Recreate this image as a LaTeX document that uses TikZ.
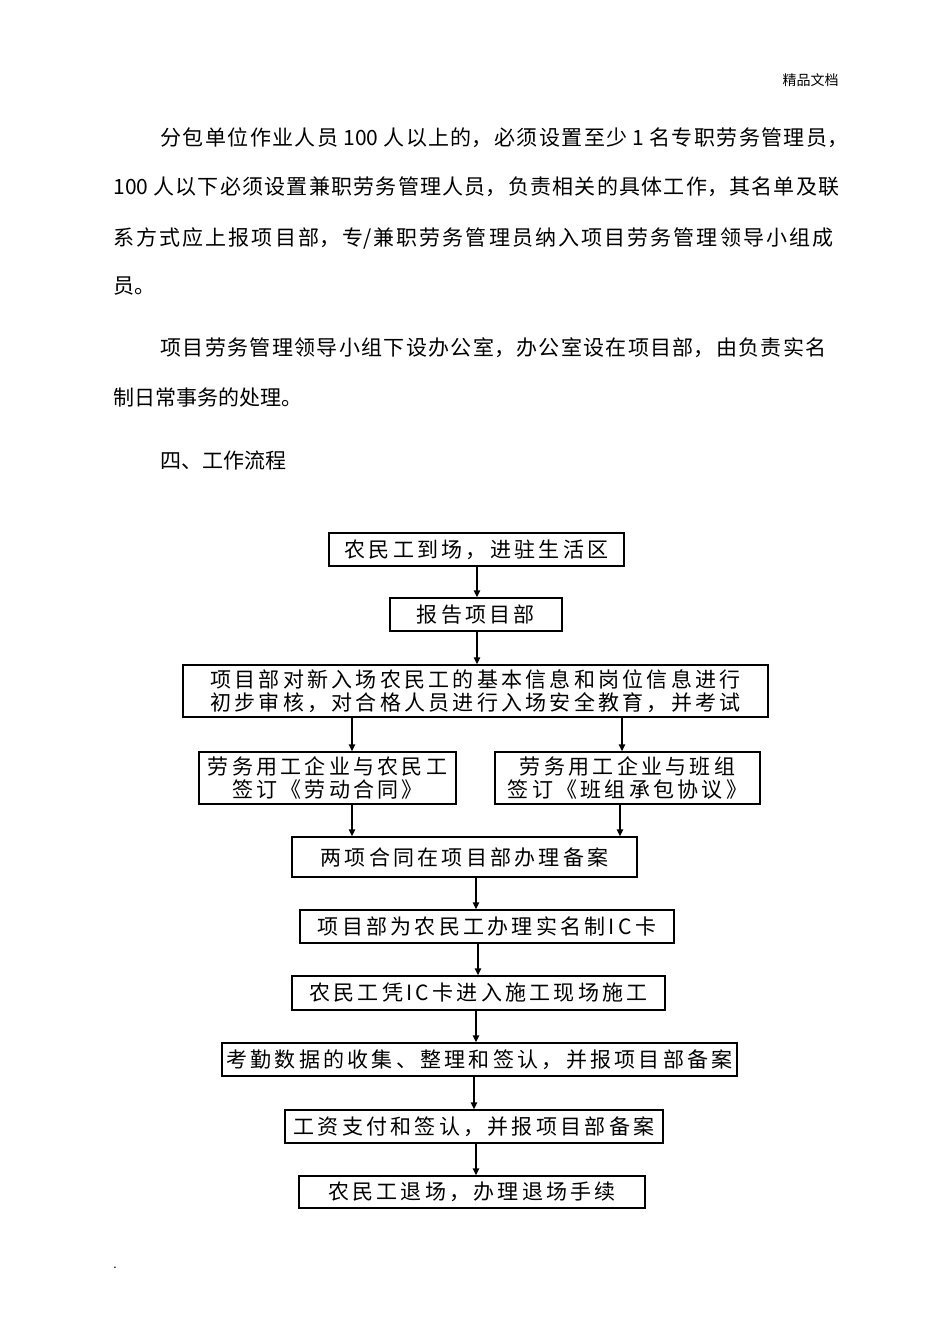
\documentclass[tikz,border=0pt]{standalone}
\usepackage{fontspec}
\setmainfont{Noto Sans CJK SC}
\newfontfamily\boxfont[LetterSpace=15.5]{Noto Sans CJK SC}
\usetikzlibrary{arrows.meta}
\newcommand\jline[2]{\parbox[t]{#1}{\XeTeXlinebreaklocale "zh"\XeTeXlinebreakskip=0pt plus 4pt\XeTeXlinebreakpenalty=10000\parfillskip=0pt\relax\noindent #2}}
\tikzset{
  body/.style={inner sep=0pt,anchor=base west,font=\fontsize{10.5}{12}\selectfont},
  flowbox/.style={draw,line width=0.7pt,inner sep=0pt,align=center,font=\boxfont\fontsize{10.5}{11.5}\selectfont},
  arr/.style={draw,line width=0.7pt,-{Triangle[length=3.5pt,width=3.2pt]}}
}
\begin{document}
\begin{tikzpicture}[x=0.5pt,y=-0.5pt]
\useasboundingbox[fill=white] (0,0) rectangle (950,1344);
% header
\node[inner sep=0pt,anchor=east,font=\fontsize{7}{8}\selectfont] (hdr) at (839,80) {精品文档};
% body text
\node[body] (l1) at (160,145) {\jline{344pt}{分包单位作业人员 100 人以上的，必须设置至少 1 名专职劳务管理员，}};
\node[body] (l2) at (113,194) {\jline{363pt}{100 人以下必须设置兼职劳务管理人员，负责相关的具体工作，其名单及联}};
\node[body] (l3) at (113,245) {\jline{360pt}{系方式应上报项目部，专/兼职劳务管理员纳入项目劳务管理领导小组成}};
\node[body] (l4) at (113,293) {员。};
\node[body] (l5) at (160,355) {\jline{333pt}{项目劳务管理领导小组下设办公室，办公室设在项目部，由负责实名}};
\node[body] (l6) at (113,405) {制日常事务的处理。};
\node[body] (l7) at (160,468) {四、工作流程};
% flow boxes
\node[flowbox,minimum width=147.5pt,minimum height=16.5pt] (b1) at (476.5,549.5) {农民工到场，进驻生活区};
\node[flowbox,minimum width=86pt,minimum height=16.5pt] (b2) at (476,614.5) {报告项目部};
\node[flowbox,minimum width=292.5pt,minimum height=26pt] (b3) at (475.5,691) {项目部对新入场农民工的基本信息和岗位信息进行\\初步审核，对合格人员进行入场安全教育，并考试};
\node[flowbox,minimum width=128.5pt,minimum height=26pt] (b4l) at (327.5,778) {劳务用工企业与农民工\\签订《劳动合同》};
\node[flowbox,minimum width=132.5pt,minimum height=26pt] (b4r) at (627.5,778) {劳务用工企业与班组\\签订《班组承包协议》};
\node[flowbox,minimum width=172.5pt,minimum height=20pt] (b5) at (464.5,857) {两项合同在项目部办理备案};
\node[flowbox,minimum width=187pt,minimum height=16.5pt] (b6) at (487,926.5) {项目部为农民工办理实名制IC卡};
\node[flowbox,minimum width=186.5pt,minimum height=17pt] (b7) at (478.5,993) {农民工凭IC卡进入施工现场施工};
\node[flowbox,minimum width=257.5pt,minimum height=16.5pt] (b8) at (479.5,1059.5) {考勤数据的收集、整理和签认，并报项目部备案};
\node[flowbox,minimum width=189pt,minimum height=16.5pt] (b9) at (474,1126.5) {工资支付和签认，并报项目部备案};
\node[flowbox,minimum width=173pt,minimum height=16pt] (b10) at (472,1192) {农民工退场，办理退场手续};
% arrow columns
\coordinate (c1) at (477,0);
\coordinate (c2) at (352,0);
\coordinate (c3) at (622,0);
\coordinate (c4) at (620,0);
\coordinate (c5) at (476,0);
\coordinate (c6) at (478,0);
\coordinate (c7) at (474,0);
% connectors
\draw[arr] (b1.south -| c1) -- (b2.north -| c1);
\draw[arr] (b2.south -| c1) -- (b3.north -| c1);
\draw[arr] (b3.south -| c2) -- (b4l.north -| c2);
\draw[arr] (b3.south -| c3) -- (b4r.north -| c3);
\draw[arr] (b4l.south -| c2) -- (b5.north -| c2);
\draw[arr] (b4r.south -| c4) -- (b5.north -| c4);
\draw[arr] (b5.south -| c5) -- (b6.north -| c5);
\draw[arr] (b6.south -| c6) -- (b7.north -| c6);
\draw[arr] (b7.south -| c5) -- (b8.north -| c5);
\draw[arr] (b8.south -| c7) -- (b9.north -| c7);
\draw[arr] (b9.south -| c5) -- (b10.north -| c5);
% stray dot
\node[inner sep=0pt,font=\fontsize{6}{7}\selectfont] (dot) at (115,1268) {.};
\end{tikzpicture}
\end{document}
